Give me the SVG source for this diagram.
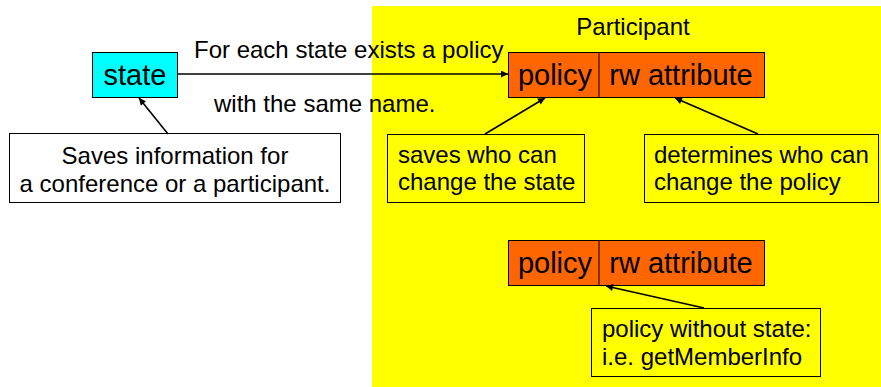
<svg xmlns="http://www.w3.org/2000/svg" width="881" height="387" viewBox="0 0 881 387">
<style>
text{font-family:"Liberation Sans",Arial,sans-serif;fill:#000}
.big{font-size:29px}
.mid{font-size:24px}
.box{stroke:#000;stroke-width:1}
.line{stroke:#000;stroke-width:1.6;fill:none;marker-end:url(#ah)}
</style>
<defs>
<marker id="ah" viewBox="0 0 10 10" refX="10" refY="5" markerWidth="9" markerHeight="7" markerUnits="userSpaceOnUse" orient="auto">
<path d="M0,0 L10,5 L0,10 z" fill="#000"/>
</marker>
</defs>
<rect x="0" y="0" width="881" height="387" fill="#fff"/>
<g id="participant">
<rect x="372" y="6" width="509" height="381" fill="#ffff00"/>
<text class="mid" x="633" y="35" text-anchor="middle">Participant</text>
</g>
<g id="edge-labels">
<text class="mid" x="194" y="58">For each state exists a policy</text>
<text class="mid" x="214" y="112">with the same name.</text>
</g>
<g id="state">
<rect class="box" x="92.5" y="52.5" width="85" height="45" fill="#00ffff"/>
<text class="big" x="135" y="85" text-anchor="middle">state</text>
</g>
<g id="policy1">
<rect class="box" x="508.5" y="52.5" width="256" height="45" fill="#ff6600"/>
<line class="box" x1="599" y1="52.5" x2="599" y2="97.5"/>
<text class="big" x="555" y="85" text-anchor="middle">policy</text>
<text class="big" x="681" y="85" text-anchor="middle">rw attribute</text>
</g>
<g id="policy2">
<rect class="box" x="508.5" y="240.5" width="256" height="45" fill="#ff6600"/>
<line class="box" x1="599" y1="240.5" x2="599" y2="285.5"/>
<text class="big" x="555" y="273" text-anchor="middle">policy</text>
<text class="big" x="681" y="273" text-anchor="middle">rw attribute</text>
</g>
<g id="note-state">
<rect class="box" x="9.5" y="133.5" width="331" height="69" fill="#fff"/>
<text class="mid" x="175" y="164" text-anchor="middle">Saves information for</text>
<text class="mid" x="175" y="192" text-anchor="middle">a conference or a participant.</text>
</g>
<g id="note-policy">
<rect class="box" x="387.5" y="134.5" width="197" height="68" fill="#ffff00"/>
<text class="mid" x="398" y="163">saves who can</text>
<text class="mid" x="398" y="190">change the state</text>
</g>
<g id="note-rw">
<rect class="box" x="644.5" y="134.5" width="234" height="68" fill="#ffff00"/>
<text class="mid" x="654" y="163">determines who can</text>
<text class="mid" x="654" y="190">change the policy</text>
</g>
<g id="note-nostate">
<rect class="box" x="591.5" y="308.5" width="229" height="68" fill="#ffff00"/>
<text class="mid" x="602" y="337">policy without state:</text>
<text class="mid" x="602" y="365">i.e. getMemberInfo</text>
</g>
<g id="connectors">
<line class="line" x1="178" y1="74" x2="508" y2="74"/>
<line class="line" x1="168" y1="134" x2="139" y2="98"/>
<line class="line" x1="485" y1="134" x2="545" y2="98"/>
<line class="line" x1="758" y1="134" x2="675" y2="98"/>
<line class="line" x1="704" y1="308" x2="606" y2="286"/>
</g>
</svg>
